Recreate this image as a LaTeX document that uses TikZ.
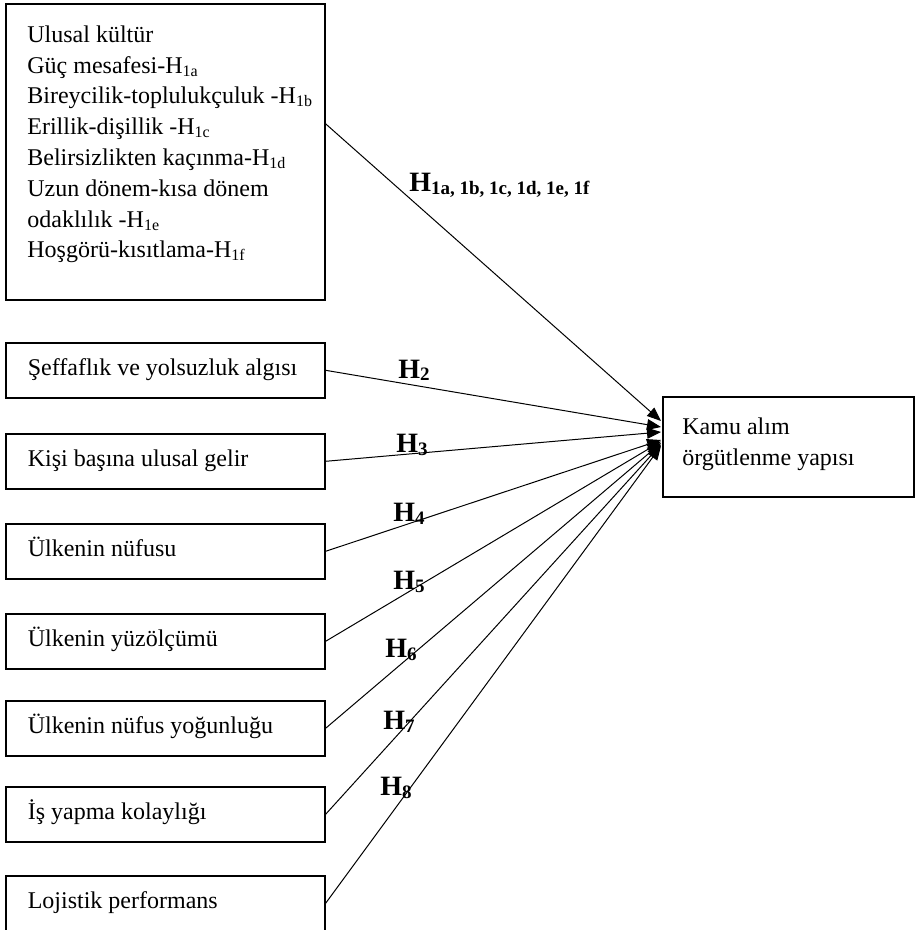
\documentclass[tikz,border=0pt]{standalone}
\usepackage{fontspec}
\setmainfont{Liberation Serif}
\usetikzlibrary{arrows.meta}
\newcommand\altind[1]{\raisebox{-1.5pt}{\fontsize{8}{9}\selectfont #1}}
\newcommand\hipo[1]{\textbf{H}\raisebox{-1.5pt}{\fontsize{9.5}{10}\selectfont\textbf{#1}}}
\begin{document}
\begin{tikzpicture}[x=0.5pt,y=-0.5pt,font=\fontsize{12}{15.4}\selectfont,
  kutu/.style={draw,line width=0.8pt,anchor=north west,minimum width=159.5pt,inner sep=0pt},
  faktor/.style={kutu,minimum height=27.5pt,text width=141pt,inner xsep=9.25pt,align=flush left,text height=0.72em,text depth=0.22em},
  metin/.style={anchor=base west,inner sep=0pt,align=left},
  etiket/.style={anchor=base west,inner sep=0pt,font=\fontsize{14}{16}\selectfont},
  ok/.style={line width=0.5pt,-{Triangle[length=7pt,width=5.5pt]}}]
  \useasboundingbox (0,0) rectangle (914,930);
  % bagimsiz degiskenler
  \node[kutu,minimum height=148pt] (ulusal) at (5,3){};
  \node[metin] (ulusalmetin) at (27,258){Ulusal kültür\\Güç mesafesi-H\altind{1a}\\Bireycilik-toplulukçuluk -H\altind{1b}\\Erillik-dişillik -H\altind{1c}\\Belirsizlikten kaçınma-H\altind{1d}\\Uzun dönem-kısa dönem\\odaklılık -H\altind{1e}\\Hoşgörü-kısıtlama-H\altind{1f}};
  \node[faktor] (seffaflik) at (5,342){\hspace*{1.75pt}Şeffaflık ve yolsuzluk algısı};
  \node[faktor] (gelir) at (5,433){\hspace*{1.75pt}Kişi başına ulusal gelir};
  \node[faktor] (nufus) at (5,523){\hspace*{1.75pt}Ülkenin nüfusu};
  \node[faktor] (yuzolcum) at (5,613){\hspace*{1.75pt}Ülkenin yüzölçümü};
  \node[faktor] (yogunluk) at (5,700){\hspace*{1.75pt}Ülkenin nüfus yoğunluğu};
  \node[faktor] (isyapma) at (5,786){\hspace*{1.75pt}İş yapma kolaylığı};
  \node[faktor] (lojistik) at (5,875){\hspace*{1.75pt}Lojistik performans};
  % bagimli degisken
  \node[kutu,minimum width=125.5pt,minimum height=50pt] (kamu) at (662,396){};
  \node[metin] (kamumetin) at (682,465){Kamu alım\\örgütlenme yapısı};
  % ok uclari
  \coordinate (e1) at (661,421);
  \coordinate (e2) at (661,427);
  \coordinate (e3) at (661,432);
  \coordinate (e4) at (661,440);
  \coordinate (e5) at (661,441.5);
  \coordinate (e6) at (661,443);
  \coordinate (e7) at (661,444.5);
  \coordinate (e8) at (661,446);
  \draw[ok] ([yshift=14pt]ulusal.east) -- (e1);
  \draw[ok] (seffaflik.east) -- (e2);
  \draw[ok] (gelir.east) -- (e3);
  \draw[ok] (nufus.east) -- (e4);
  \draw[ok] (yuzolcum.east) -- (e5);
  \draw[ok] (yogunluk.east) -- (e6);
  \draw[ok] (isyapma.east) -- (e7);
  \draw[ok] (lojistik.east) -- (e8);
  % hipotezler
  \node[etiket] (h1) at (409,192){\hipo{1a, 1b, 1c, 1d, 1e, 1f}};
  \node[etiket] (h2) at (398,378){\hipo{2}};
  \node[etiket] (h3) at (396,452){\hipo{3}};
  \node[etiket] (h4) at (393,521){\hipo{4}};
  \node[etiket] (h5) at (393,589){\hipo{5}};
  \node[etiket] (h6) at (385,657){\hipo{6}};
  \node[etiket] (h7) at (383,729){\hipo{7}};
  \node[etiket] (h8) at (380,795){\hipo{8}};
\end{tikzpicture}
\end{document}
